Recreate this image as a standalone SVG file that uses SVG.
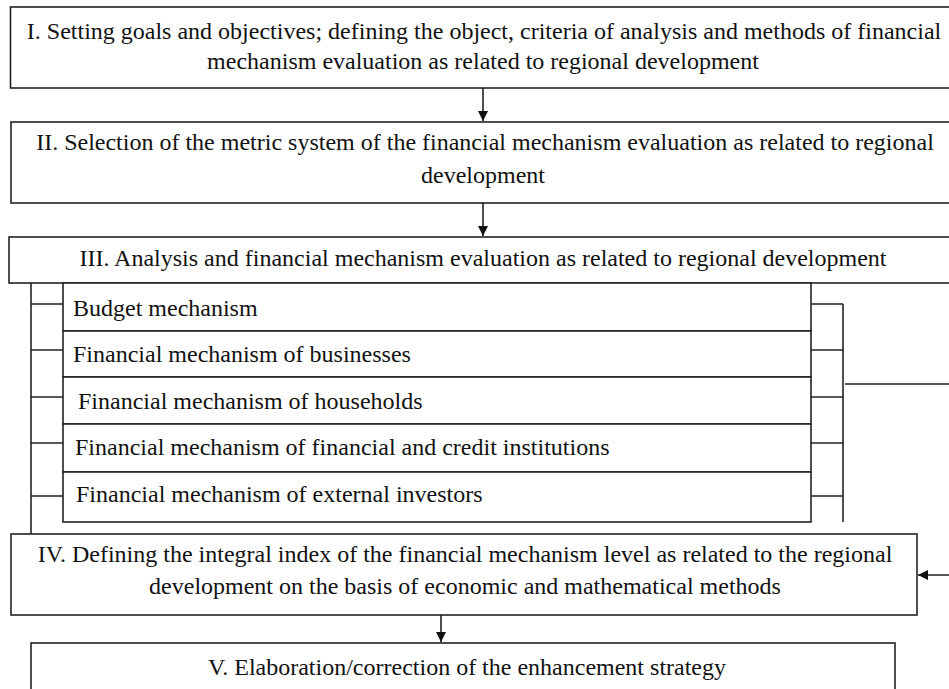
<svg xmlns="http://www.w3.org/2000/svg" width="949" height="689" viewBox="0 0 949 689">
  <style>
    .box { fill: #ffffff; stroke: #222222; stroke-width: 1.6; }
    .t { font-family: "Liberation Serif", "Times New Roman", serif; font-size: 24px; fill: #111111; }
    .c { text-anchor: middle; }
    .ln { fill: none; stroke: #222222; stroke-width: 1.6; }
  </style>
  <defs>
    <marker id="arrow" viewBox="0 0 10 10" refX="10" refY="5" markerWidth="10" markerHeight="10" markerUnits="userSpaceOnUse" orient="auto">
      <path d="M0,0 L10,5 L0,10 z" fill="#111111"/>
    </marker>
  </defs>
  <rect width="949" height="689" fill="#ffffff"/>

  <g id="connectors">
    <line class="ln" x1="483" y1="88" x2="483" y2="121" marker-end="url(#arrow)"/>
    <line class="ln" x1="483" y1="203" x2="483" y2="236" marker-end="url(#arrow)"/>
    <line class="ln" x1="441" y1="615" x2="441" y2="642" marker-end="url(#arrow)"/>
    <!-- left bus feeding each mechanism -->
    <path class="ln" d="M31,283 V534"/>
    <path class="ln" d="M31,304 H63 M31,350 H63 M31,397 H63 M31,443 H63 M31,496 H63"/>
    <!-- right bus collecting the mechanisms -->
    <path class="ln" d="M811,304 H843 M811,350 H843 M811,397 H843 M811,443 H843 M811,496 H843"/>
    <path class="ln" d="M843,304 V522"/>
    <!-- feedback into stage IV -->
    <path class="ln" d="M845,384 H962 V575 H918" marker-end="url(#arrow)"/>
  </g>

  <g id="stage1">
    <rect class="box" x="10.5" y="7" width="950" height="81"/>
    <text class="t c" x="484" y="39">I. Setting goals and objectives; defining the object, criteria of analysis and methods of financial</text>
    <text class="t c" x="483" y="69">mechanism evaluation as related to regional development</text>
  </g>

  <g id="stage2">
    <rect class="box" x="11" y="122" width="950" height="81"/>
    <text class="t c" x="485" y="150">II. Selection of the metric system of the financial mechanism evaluation as related to regional</text>
    <text class="t c" x="483" y="183">development</text>
  </g>

  <g id="stage3">
    <rect class="box" x="9" y="237" width="952" height="46"/>
    <text class="t c" x="483" y="266">III. Analysis and financial mechanism evaluation as related to regional development</text>
  </g>

  <g id="mech-budget">
    <rect class="box" x="63" y="283" width="748" height="48"/>
    <text class="t" x="73" y="316">Budget mechanism</text>
  </g>
  <g id="mech-businesses">
    <rect class="box" x="63" y="331" width="748" height="46"/>
    <text class="t" x="73" y="362">Financial mechanism of businesses</text>
  </g>
  <g id="mech-households">
    <rect class="box" x="63" y="377" width="748" height="47"/>
    <text class="t" x="78" y="409">Financial mechanism of households</text>
  </g>
  <g id="mech-credit">
    <rect class="box" x="63" y="424" width="748" height="48"/>
    <text class="t" x="75" y="455">Financial mechanism of financial and credit institutions</text>
  </g>
  <g id="mech-investors">
    <rect class="box" x="63" y="472" width="748" height="50"/>
    <text class="t" x="76" y="502">Financial mechanism of external investors</text>
  </g>

  <g id="stage4">
    <rect class="box" x="11" y="534" width="906" height="81"/>
    <text class="t c" x="465" y="562">IV. Defining the integral index of the financial mechanism level as related to the regional</text>
    <text class="t c" x="465" y="594">development on the basis of economic and mathematical methods</text>
  </g>

  <g id="stage5">
    <rect class="box" x="31" y="643" width="864" height="80"/>
    <text class="t c" x="467" y="675">V. Elaboration/correction of the enhancement strategy</text>
  </g>
</svg>
